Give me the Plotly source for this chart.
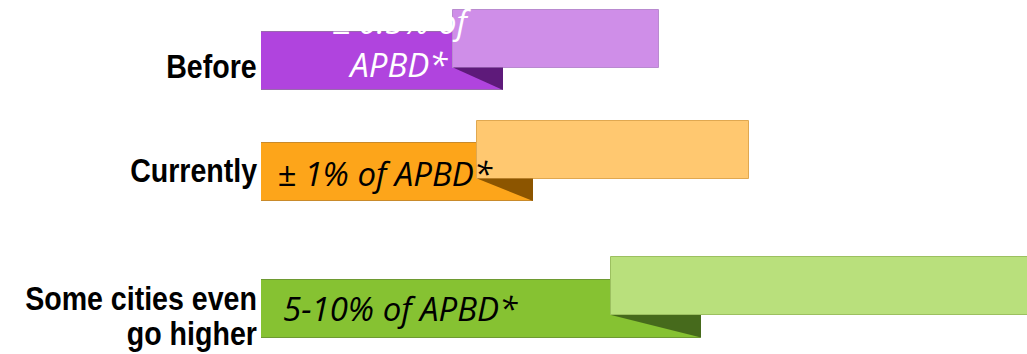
import plotly.graph_objects as go

# ---- data ----
categories = ["Before", "Currently", "Some cities even go higher"]
label_lines = [["Before"], ["Currently"], ["Some cities even", "go higher"]]
bar_texts = ["± 0.5% of<br>APBD*", "± 1% of APBD*", "5-10% of APBD*"]
dark_end = [242, 272, 440]      # length of the front (dark) ribbon
light_start = [192, 216, 350]   # where the raised (light) ribbon starts
light_end = [398, 488, 800]     # where the raised (light) ribbon ends

# ---- styles / layout constants ----
dark_colors = ["#B044DE", "#FDA51A", "#86C232"]
light_colors = ["#CF8EE8", "#FFC870", "#B9E07C"]
fold_colors = ["#5E1A7A", "#8C5500", "#466A1C"]
dark_edge = ["#9A6AAE", "#C98A2A", "#6E9A32"]
light_edge = ["#B98AD0", "#E0A850", "#9CC060"]
text_colors = ["white", "black", "black"]
row_y = [61, 172, 308.5]
lift = 22.5
bar_h = 58

fig = go.Figure()

for i in range(3):
    fig.add_trace(go.Bar(
        orientation="h", x=[dark_end[i]], y=[row_y[i]], base=0, width=bar_h,
        marker=dict(color=dark_colors[i], line=dict(color=dark_edge[i], width=1)),
        hoverinfo="skip", showlegend=False))
for i in range(3):
    fig.add_trace(go.Bar(
        orientation="h", x=[light_end[i] - light_start[i]], y=[row_y[i] - lift],
        base=light_start[i], width=bar_h,
        marker=dict(color=light_colors[i], line=dict(color=light_edge[i], width=1)),
        hoverinfo="skip", showlegend=False))
for i in range(3):
    lb = row_y[i] - lift + bar_h / 2
    db = row_y[i] + bar_h / 2
    fig.add_trace(go.Scatter(
        x=[light_start[i], dark_end[i], dark_end[i], light_start[i]],
        y=[lb, lb, db, lb], mode="lines", fill="toself",
        fillcolor=fold_colors[i], line=dict(width=0, color=fold_colors[i]),
        hoverinfo="skip", showlegend=False))

ann = []
label_font = dict(family="Liberation Sans, Arial", size=34, color="black", weight=700)
label_specs = [(0, label_lines[0][0], -5), (1, label_lines[1][0], 2),
               (2, label_lines[2][0], 11), (2, label_lines[2][1], -24)]
for r, txt, ys in label_specs:
    ann.append(dict(x=0, y=row_y[r], xref="x", yref="y", text=txt, align="right",
                    xanchor="right", yanchor="middle", xshift=-2, yshift=ys,
                    showarrow=False, font=label_font))

text_font = "Open Sans"
ann.append(dict(x=140, y=row_y[0], xref="x", yref="y", text="<i>" + bar_texts[0] + "</i>",
                xanchor="center", yanchor="middle", yshift=18, showarrow=False, align="center",
                font=dict(family=text_font, size=33, color=text_colors[0])))
ann.append(dict(x=0, y=row_y[1], xref="x", yref="y", text="<i>" + bar_texts[1] + "</i>",
                xanchor="left", yanchor="middle", xshift=14, yshift=-1, showarrow=False,
                font=dict(family=text_font, size=33, color=text_colors[1])))
ann.append(dict(x=0, y=row_y[2], xref="x", yref="y", text="<i>" + bar_texts[2] + "</i>",
                xanchor="left", yanchor="middle", xshift=20, yshift=0, showarrow=False,
                font=dict(family=text_font, size=33, color=text_colors[2])))

fig.update_layout(
    width=1027, height=354,
    margin=dict(l=261, r=0, t=0, b=0),
    paper_bgcolor="white", plot_bgcolor="white",
    barmode="overlay", bargap=0,
    xaxis=dict(range=[0, 766], visible=False, fixedrange=True),
    yaxis=dict(range=[354, 0], visible=False, fixedrange=True),
    annotations=ann,
    showlegend=False,
)

# condense the bold left-hand labels (narrow bold face like the reference)
post_js = """
var gd = document.getElementById('{plot_id}');
gd.querySelectorAll('g.annotation').forEach(function(g){
  var idx = +g.getAttribute('data-index');
  if (idx > 3) return;
  var t = g.querySelector('text.annotation-text');
  if (!t) return;
  var b0 = t.getBBox();
  var right0 = b0.x + b0.width;
  var w = t.getComputedTextLength();
  t.setAttribute('lengthAdjust', 'spacingAndGlyphs');
  t.setAttribute('textLength', w * 0.84);
  var b1 = t.getBBox();
  var dx = right0 - (b1.x + b1.width);
  var tr = t.getAttribute('transform') || '';
  t.setAttribute('transform', tr + ' translate(' + dx + ',0)');
});
"""

fig.write_html("out.html", post_script=post_js)
